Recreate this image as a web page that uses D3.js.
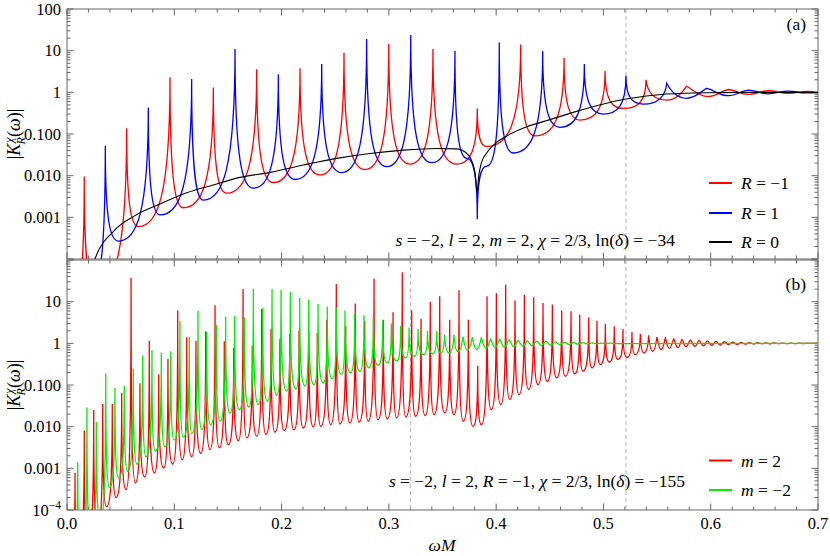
<!DOCTYPE html>
<html>
<head>
<meta charset="utf-8">
<script src="https://cdn.jsdelivr.net/npm/d3@7"></script>
<style>
body { margin: 0; background: #fff; }
svg text { font-family: "Liberation Serif", "DejaVu Serif", serif; fill: #000; }
</style>
</head>
<body>
<svg width="830" height="556" font-family="Liberation Serif, DejaVu Serif, serif"></svg>
<script>
// ---- panel (a): s=-2, l=2, m=2 ----
// [omegaM, |K|]; peaks are the sharp resonances, troughs the minima between them
var redA_peaks = [[0.0161, 0.0095], [0.0556, 0.137], [0.0960, 2.3], [0.1364, 1.3], [0.1768, 3.6], [0.2172, 3.8],
    [0.2582, 8.9], [0.2999, 14.4], [0.3411, 11], [0.3824, 0.41], [0.4229, 14], [0.4633, 6.8], [0.5015, 3.3],
    [0.5397, 2.0], [0.5776, 1.4], [0.6164, 1.17], [0.6537, 1.09], [0.6907, 1.05]];
var redA_troughs = [[0.008, 2e-5], [0.026, 2e-5], [0.0665, 0.0006], [0.1084, 0.0017], [0.1489, 0.0038],
    [0.1923, 0.0068], [0.2358, 0.0104], [0.2778, 0.014], [0.3197, 0.019], [0.3632, 0.019], [0.3912, 0.05],
    [0.4362, 0.09], [0.4782, 0.216], [0.5185, 0.41], [0.5590, 0.65], [0.5975, 0.79], [0.6348, 0.89],
    [0.6723, 0.95], [0.7, 0.99]];

var blueA_peaks = [[0.0357, 0.052], [0.0758, 0.43], [0.1162, 2.1], [0.1566, 11], [0.1970, 2.7], [0.2374, 4.8],
    [0.2793, 19], [0.3204, 23.7], [0.3616, 9.8], [0.4029, 15.8], [0.4434, 10], [0.4822, 4.8], [0.5210, 2.5],
    [0.5590, 1.65], [0.5963, 1.25], [0.6350, 1.13], [0.6723, 1.07]];
var blueA_troughs = [[0.022, 2e-5], [0.0478, 0.00027], [0.0868, 0.00114], [0.1271, 0.0026], [0.1738, 0.005],
    [0.2126, 0.0081], [0.2561, 0.0118], [0.2980, 0.0165], [0.3399, 0.0205], [0.3727, 0.026], [0.3912, 0.017],
    [0.4160, 0.035], [0.4595, 0.145], [0.4999, 0.30], [0.5372, 0.52], [0.5776, 0.72], [0.6164, 0.83],
    [0.6534, 0.92], [0.6879, 0.97], [0.7, 0.98]];
var blueA_dips = [[0.3824, 0.0009]];

var blackA = [[0.018, 2e-5], [0.0261, 1e-4], [0.0447, 5e-4], [0.0618, 0.00104], [0.0867, 0.0021], [0.1116, 0.0039],
    [0.1364, 0.006], [0.1612, 0.0091], [0.1892, 0.012], [0.2203, 0.018], [0.2514, 0.026], [0.2824, 0.034],
    [0.3135, 0.041], [0.3446, 0.045], [0.3632, 0.044], [0.3727, 0.034], [0.3780, 0.02], [0.3806, 0.01],
    [0.3822, 0.004], [0.3838, 0.01], [0.3862, 0.02], [0.3912, 0.035], [0.3977, 0.055], [0.4099, 0.09],
    [0.4285, 0.15], [0.4474, 0.21], [0.4718, 0.33], [0.5210, 0.69], [0.5590, 0.91], [0.5963, 0.98],
    [0.64, 1.0], [0.7, 1.0]];

// ---- panel (b): s=-2, l=2, R=-1 ----
var redB_peaks = [[0.0075, 0.00078], [0.0161, 0.0081], [0.0249, 0.025], [0.0333, 0.035], [0.0422, 0.035],
    [0.0510, 0.065], [0.0597, 37], [0.0680, 0.11], [0.0767, 1.16], [0.0855, 0.18], [0.0941, 0.42], [0.1032, 6.1],
    [0.1116, 1.4], [0.1202, 1.16], [0.1293, 1.95], [0.1380, 8.2], [0.1466, 1.12], [0.1554, 0.77], [0.1641, 20],
    [0.1727, 0.88], [0.1815, 6.7], [0.1902, 2.2], [0.1985, 1.27], [0.2076, 1.67], [0.2163, 2.0], [0.2253, 2.0],
    [0.2333, 1.77], [0.2421, 3.7], [0.2510, 26.5], [0.2598, 2.65], [0.2687, 9.0], [0.2775, 3.4], [0.2862, 36],
    [0.2948, 3.7], [0.3039, 5.6], [0.3125, 51], [0.3213, 6.1], [0.3300, 3.9], [0.3386, 10], [0.3474, 13.4],
    [0.3567, 3.7], [0.3654, 18.7], [0.3741, 3.7], [0.3828, 0.29], [0.3915, 13.4], [0.4002, 16], [0.4089, 25.6],
    [0.4176, 10.6], [0.4263, 14.7], [0.4350, 12.7], [0.4437, 9.3], [0.4524, 8.5], [0.4611, 6.1], [0.4698, 5.9],
    [0.4779, 4.9], [0.4863, 4.2], [0.4940, 3.5], [0.5018, 2.9], [0.5101, 2.56], [0.5182, 2.2], [0.5266, 1.87],
    [0.5344, 1.67], [0.5422, 1.56], [0.5499, 1.42], [0.5577, 1.34], [0.5655, 1.27], [0.5732, 1.24], [0.5810, 1.2],
    [0.5891, 1.17], [0.5970, 1.14], [0.6049, 1.11], [0.6127, 1.09], [0.6205, 1.07], [0.6282, 1.057],
    [0.6360, 1.045], [0.6438, 1.035], [0.6515, 1.028], [0.6593, 1.021], [0.6671, 1.016], [0.6748, 1.014],
    [0.6826, 1.012], [0.6904, 1.009], [0.6981, 1.007]];
var redB_troughs = [[0.003, 1e-5], [0.0105, 1e-5], [0.0195, 2e-5], [0.0285, 4e-5], [0.0369, 1.2e-4],
    [0.0457, 2e-4], [0.0550, 3.1e-4], [0.0637, 4.5e-4], [0.0724, 6.2e-4], [0.0814, 7.8e-4], [0.0901, 0.00102],
    [0.0985, 0.00126], [0.1074, 0.0016], [0.1162, 0.0019], [0.1246, 0.0023], [0.1333, 0.0028], [0.1420, 0.0031],
    [0.1503, 0.0037], [0.1597, 0.0046], [0.1675, 0.0054], [0.1768, 0.0059], [0.1855, 0.0065], [0.1939, 0.0074],
    [0.2025, 0.0081], [0.2116, 0.0084], [0.2203, 0.0093], [0.2296, 0.0099], [0.2365, 0.0102], [0.2458, 0.0112],
    [0.2545, 0.0117], [0.2638, 0.0123], [0.2722, 0.0129], [0.2808, 0.0135], [0.2899, 0.0148], [0.2985, 0.0155],
    [0.3073, 0.0162], [0.3157, 0.017], [0.3250, 0.0178], [0.3337, 0.0186], [0.3421, 0.0195], [0.3520, 0.0214],
    [0.3607, 0.0195], [0.3694, 0.0135], [0.3784, 0.0102], [0.3862, 0.0112], [0.3955, 0.0257], [0.4043, 0.034],
    [0.4127, 0.045], [0.4213, 0.059], [0.4303, 0.078], [0.4390, 0.102], [0.4477, 0.123], [0.4564, 0.148],
    [0.4645, 0.162], [0.4732, 0.184], [0.4809, 0.214], [0.4893, 0.257], [0.4971, 0.31], [0.5055, 0.355],
    [0.5136, 0.41], [0.5220, 0.457], [0.5297, 0.537], [0.5378, 0.59], [0.5459, 0.645], [0.5539, 0.71],
    [0.5614, 0.76], [0.5695, 0.79], [0.5770, 0.83], [0.5854, 0.85], [0.5931, 0.87], [0.6009, 0.89],
    [0.6087, 0.91], [0.6168, 0.93], [0.6245, 0.94], [0.6322, 0.955], [0.6399, 0.964], [0.6478, 0.973],
    [0.6553, 0.977], [0.6632, 0.982], [0.6711, 0.986], [0.6786, 0.989], [0.6865, 0.991], [0.6944, 0.993],
    [0.7, 1.0]];

var greenB_peaks = [[0.0100, 0.0014], [0.0186, 0.029], [0.0273, 0.013], [0.0361, 0.19], [0.0447, 0.085],
    [0.0534, 0.096], [0.0618, 0.245], [0.0706, 0.52], [0.0792, 0.68], [0.0879, 0.6], [0.0967, 0.65],
    [0.1053, 3.5], [0.1140, 1.42], [0.1221, 6.1], [0.1302, 1.87], [0.1392, 2.8], [0.1479, 4.4], [0.1563, 4.5],
    [0.1653, 4.2], [0.1737, 20.5], [0.1824, 7.0], [0.1911, 20.5], [0.1995, 19.4], [0.2081, 17], [0.2169, 12.2],
    [0.2253, 11.2], [0.2340, 8.8], [0.2426, 7.7], [0.2510, 7.0], [0.2591, 6.1], [0.2682, 5.3], [0.2768, 4.7],
    [0.2855, 4.2], [0.2943, 3.6], [0.3023, 3.0], [0.3110, 2.65], [0.3188, 2.4], [0.3272, 2.2], [0.3360, 2.0],
    [0.3446, 1.94], [0.3520, 1.6], [0.3607, 1.6], [0.3691, 1.45], [0.3778, 1.41], [0.3862, 1.35], [0.3949, 1.26],
    [0.4033, 1.26], [0.4120, 1.22], [0.4204, 1.17], [0.4290, 1.15], [0.4378, 1.12], [0.4465, 1.11],
    [0.4551, 1.08], [0.4637, 1.06], [0.4723, 1.047], [0.4808, 1.035], [0.4894, 1.023], [0.4980, 1.016],
    [0.5066, 1.012]];
var greenB_troughs = [[0.006, 2e-5], [0.0135, 1e-5], [0.0225, 2e-5], [0.0310, 6e-5], [0.0397, 3.5e-4],
    [0.0482, 5.9e-4], [0.0566, 8.5e-4], [0.0652, 0.00126], [0.0736, 0.0019], [0.0823, 0.0026], [0.0911, 0.0033],
    [0.1000, 0.0048], [0.1084, 0.0056], [0.1162, 0.0068], [0.1256, 0.0085], [0.1339, 0.0112], [0.1426, 0.0135],
    [0.1519, 0.0214], [0.1606, 0.0257], [0.1694, 0.0295], [0.1783, 0.034], [0.1867, 0.041], [0.1955, 0.056],
    [0.2048, 0.071], [0.2134, 0.081], [0.2218, 0.095], [0.2302, 0.102], [0.2389, 0.112], [0.2473, 0.141],
    [0.2557, 0.178], [0.2644, 0.195], [0.2731, 0.214], [0.2815, 0.257], [0.2899, 0.295], [0.2985, 0.339],
    [0.3073, 0.38], [0.3157, 0.447], [0.3241, 0.49], [0.3327, 0.537], [0.3408, 0.56], [0.3483, 0.575],
    [0.3561, 0.59], [0.3644, 0.63], [0.3733, 0.68], [0.3819, 0.71], [0.3905, 0.76], [0.3989, 0.79],
    [0.4076, 0.81], [0.4164, 0.83], [0.4250, 0.85], [0.4334, 0.87], [0.4421, 0.89], [0.4509, 0.90],
    [0.4595, 0.92], [0.4679, 0.94], [0.4763, 0.955], [0.4851, 0.966], [0.4937, 0.977], [0.5024, 0.984],
    [0.5108, 0.989], [0.7, 1.0]];

// axis ticks and marker lines
var xMajor = [0, 0.1, 0.2, 0.3, 0.4, 0.5, 0.6, 0.7];
var xTickLabels = ["0.0", "0.1", "0.2", "0.3", "0.4", "0.5", "0.6", "0.7"];
var yMajorA = [100, 10, 1, 0.1, 0.01, 0.001];
var yLabelsA = ["100", "10", "1", "0.100", "0.010", "0.001"];
var yMajorB = [10, 1, 0.1, 0.01, 0.001, 0.0001];
var yLabelsB = ["10", "1", "0.100", "0.010", "0.001", "10^-4"];
var dashedA = [0.521];
var dashedB = [0.3203, 0.521];

var svg = d3.select("svg");
var left = 67, right = 818;
var frameColor = "#666";
var tickFont = 16.5, textFont = 17.5;

var x = d3.scaleLinear().domain([0, 0.7]).range([left, right]);

// merge peaks/troughs into one ordered list; k = "p" spike end, "t" smooth end
function keyPoints(peaks, troughs, dips) {
    var pts = [];
    peaks.forEach(function (d) { pts.push({w: d[0], v: d[1], k: "p"}); });
    troughs.forEach(function (d) { pts.push({w: d[0], v: d[1], k: "t"}); });
    (dips || []).forEach(function (d) { pts.push({w: d[0], v: d[1], k: "p"}); });
    pts.sort(function (a, b) { return a.w - b.w; });
    return pts;
}

// resonance curve: flat into a trough, vertical into a sharp peak
function resonancePath(pts, y) {
    var p = d3.path();
    p.moveTo(x(pts[0].w), y(pts[0].v));
    for (var i = 1; i < pts.length; i++) {
        var a = pts[i - 1], b = pts[i];
        var xa = x(a.w), ya = y(a.v), xb = x(b.w), yb = y(b.v);
        var dx = xb - xa, dy = yb - ya;
        var s = Math.max(0, Math.min(1, (Math.abs(Math.log10(b.v / a.v)) - 0.08) / 0.5));
        var c1, c2;
        if (a.k === "t") c1 = [xa + dx * (0.4 + 0.2 * s), ya];
        else c1 = [xa + dx * 0.4 * (1 - s), ya + dy * 0.8 * s];
        if (b.k === "t") c2 = [xb - dx * (0.4 + 0.2 * s), yb];
        else c2 = [xb - dx * 0.4 * (1 - s), yb - dy * 0.8 * s];
        p.bezierCurveTo(c1[0], c1[1], c2[0], c2[1], xb, yb);
    }
    return p.toString();
}

function richText(sel, parts) {
    parts.forEach(function (d) {
        var t = sel.append("tspan").text(d[0]);
        if (d[1] === "i") t.attr("font-style", "italic");
    });
    return sel;
}

function drawPanel(top, bottom, id, labels, majors, showX) {
    var y = d3.scaleLog().domain([1e-4, 100]).range([bottom, top]);
    var g = svg.append("g");

    svg.append("clipPath").attr("id", id)
        .append("rect")
        .attr("x", left).attr("y", top)
        .attr("width", right - left).attr("height", bottom - top);

    // frame
    g.append("rect")
        .attr("x", left).attr("y", top)
        .attr("width", right - left).attr("height", bottom - top)
        .attr("fill", "none").attr("stroke", frameColor).attr("stroke-width", 1);

    // x ticks, top and bottom, pointing inwards
    var xMinor = d3.range(0, 0.7001, 0.02).filter(function (v) {
        return Math.abs(v * 10 - Math.round(v * 10)) > 1e-6;
    });
    var xt = [];
    xMajor.forEach(function (v) { xt.push([v, 6.5]); });
    xMinor.forEach(function (v) { xt.push([v, 3.5]); });
    g.selectAll(".xtb").data(xt).enter().append("line")
        .attr("x1", function (d) { return x(d[0]); }).attr("x2", function (d) { return x(d[0]); })
        .attr("y1", bottom).attr("y2", function (d) { return bottom - d[1]; })
        .attr("stroke", frameColor);
    g.selectAll(".xtt").data(xt).enter().append("line")
        .attr("x1", function (d) { return x(d[0]); }).attr("x2", function (d) { return x(d[0]); })
        .attr("y1", top).attr("y2", function (d) { return top + d[1]; })
        .attr("stroke", frameColor);

    // y ticks, log: decades long, 2..9 short
    var yt = [];
    for (var e = -4; e <= 2; e++) {
        yt.push([Math.pow(10, e), 6.5]);
        if (e < 2) for (var m = 2; m <= 9; m++) yt.push([m * Math.pow(10, e), 3.5]);
    }
    g.selectAll(".ytl").data(yt).enter().append("line")
        .attr("x1", left).attr("x2", function (d) { return left + d[1]; })
        .attr("y1", function (d) { return y(d[0]); }).attr("y2", function (d) { return y(d[0]); })
        .attr("stroke", frameColor);
    g.selectAll(".ytr").data(yt).enter().append("line")
        .attr("x1", right).attr("x2", function (d) { return right - d[1]; })
        .attr("y1", function (d) { return y(d[0]); }).attr("y2", function (d) { return y(d[0]); })
        .attr("stroke", frameColor);

    // y tick labels
    majors.forEach(function (v, i) {
        var t = g.append("text")
            .attr("x", 61).attr("y", y(v)).attr("dy", "0.34em")
            .attr("text-anchor", "end").attr("font-size", tickFont);
        if (labels[i] === "10^-4") {
            t.append("tspan").text("10");
            t.append("tspan").text("\u22124").attr("font-size", 11.5).attr("dy", -6.5);
        } else {
            t.text(labels[i]);
        }
    });

    if (showX) {
        g.selectAll(".xl").data(xMajor).enter().append("text")
            .attr("x", function (d) { return x(d); }).attr("y", 529)
            .attr("text-anchor", "middle").attr("font-size", tickFont)
            .text(function (d, i) { return xTickLabels[i]; });
    }

    // y axis title |K_R^chi(omega)|
    var yl = g.append("text")
        .attr("transform", "translate(20," + ((top + bottom) / 2) + ") rotate(-90)")
        .attr("text-anchor", "middle").attr("font-size", 18);
    yl.append("tspan").text("|");
    yl.append("tspan").text("K").attr("font-style", "italic");
    yl.append("tspan").text("\u03c7").attr("font-style", "italic").attr("font-size", 12).attr("dy", -7).attr("dx", 1);
    yl.append("tspan").text("R").attr("font-style", "italic").attr("font-size", 12).attr("dy", 11.5).attr("dx", -7);
    yl.append("tspan").text("(").attr("dy", -4.5);
    yl.append("tspan").text("\u03c9").attr("font-style", "italic");
    yl.append("tspan").text(")|");

    var plot = svg.append("g").attr("clip-path", "url(#" + id + ")");
    return {y: y, g: g, plot: plot};
}

var A = drawPanel(9, 259, "clipA", yLabelsA, yMajorA, false);
var B = drawPanel(260, 510, "clipB", yLabelsB, yMajorB, true);

// dashed reference lines
function dashed(panel, list, top, bottom) {
    panel.plot.selectAll(".dash").data(list).enter().append("line")
        .attr("x1", function (d) { return x(d); }).attr("x2", function (d) { return x(d); })
        .attr("y1", top).attr("y2", bottom)
        .attr("stroke", "#b4b4b4").attr("stroke-width", 1).attr("stroke-dasharray", "4,3");
}
dashed(A, dashedA, 9, 259);
dashed(B, dashedB, 260, 510);

// panel (a) curves
A.plot.append("path")
    .attr("d", resonancePath(keyPoints(redA_peaks, redA_troughs), A.y))
    .attr("fill", "none").attr("stroke", "#ff0000").attr("stroke-width", 1.3);
A.plot.append("path")
    .attr("d", resonancePath(keyPoints(blueA_peaks, blueA_troughs, blueA_dips), A.y))
    .attr("fill", "none").attr("stroke", "#0000ff").attr("stroke-width", 1.3);
var blackLine = d3.line()
    .x(function (d) { return x(d[0]); })
    .y(function (d) { return A.y(d[1]); })
    .curve(d3.curveMonotoneX);
A.plot.append("path")
    .attr("d", blackLine(blackA))
    .attr("fill", "none").attr("stroke", "#000").attr("stroke-width", 1.1);

// panel (b) curves
B.plot.append("path")
    .attr("d", resonancePath(keyPoints(redB_peaks, redB_troughs), B.y))
    .attr("fill", "none").attr("stroke", "#ff0000").attr("stroke-width", 1.3);
B.plot.append("path")
    .attr("d", resonancePath(keyPoints(greenB_peaks, greenB_troughs), B.y))
    .attr("fill", "none").attr("stroke", "#00ee00").attr("stroke-width", 1.3);

// panel labels and parameter text
svg.append("text").attr("x", 806).attr("y", 30).attr("text-anchor", "end").attr("font-size", textFont).text("(a)");
svg.append("text").attr("x", 806).attr("y", 290).attr("text-anchor", "end").attr("font-size", textFont).text("(b)");

richText(svg.append("text").attr("x", 675).attr("y", 246).attr("text-anchor", "end").attr("font-size", textFont),
    [["s", "i"], [" = \u22122, "], ["l", "i"], [" = 2, "], ["m", "i"], [" = 2, "], ["\u03c7", "i"],
        [" = 2/3, ln("], ["\u03b4", "i"], [") = \u221234"]]);
richText(svg.append("text").attr("x", 685).attr("y", 487).attr("text-anchor", "end").attr("font-size", textFont),
    [["s", "i"], [" = \u22122, "], ["l", "i"], [" = 2, "], ["R", "i"], [" = \u22121, "], ["\u03c7", "i"],
        [" = 2/3, ln("], ["\u03b4", "i"], [") = \u2212155"]]);

// legends
var legendA = [["R", " = \u22121", "#ff0000", 183], ["R", " = 1", "#0000ff", 213], ["R", " = 0", "#000", 242]];
var legendB = [["m", " = 2", "#ff0000", 460.5], ["m", " = \u22122", "#00ee00", 490]];
legendA.concat(legendB).forEach(function (d) {
    svg.append("line")
        .attr("x1", 709).attr("x2", 732).attr("y1", d[3]).attr("y2", d[3])
        .attr("stroke", d[2]).attr("stroke-width", 2);
    richText(svg.append("text").attr("x", 741).attr("y", d[3] + 6).attr("font-size", textFont),
        [[d[0], "i"], [d[1]]]);
});

// x axis title
richText(svg.append("text").attr("x", 442).attr("y", 551).attr("text-anchor", "middle").attr("font-size", textFont),
    [["\u03c9M", "i"]]);
</script>
</body>
</html>
